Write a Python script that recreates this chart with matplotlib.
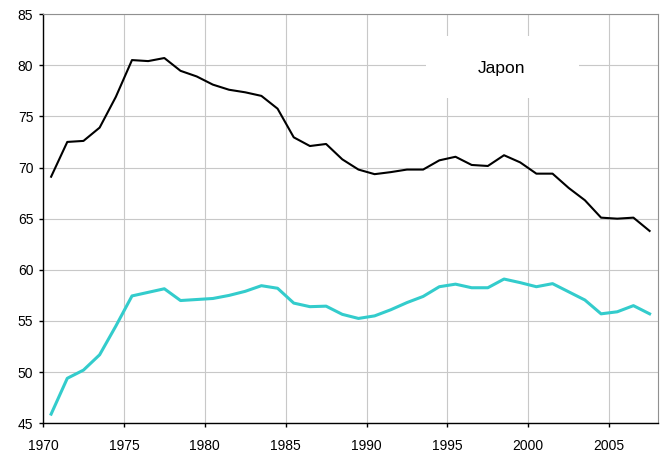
import numpy as np
import matplotlib.pyplot as plt
from matplotlib.patches import Rectangle

plt.rcParams['font.family'] = ['Liberation Sans', 'DejaVu Sans']

# years 1970..2007, plotted mid-year like a category axis
years = np.arange(1970, 2008)
black_series = [69.1, 72.5, 72.6, 73.9, 76.9, 80.5, 80.4, 80.7, 79.45, 78.9,
                78.1, 77.6, 77.35, 77.0, 75.75, 72.95, 72.1, 72.3, 70.8, 69.8,
                69.35, 69.55, 69.8, 69.8, 70.7, 71.05, 70.25, 70.15, 71.2, 70.5,
                69.4, 69.4, 68.0, 66.8, 65.1, 65.0, 65.1, 63.8]
cyan_series = [45.9, 49.4, 50.2, 51.7, 54.5, 57.45, 57.8, 58.15, 57.0, 57.1,
               57.2, 57.5, 57.9, 58.45, 58.2, 56.75, 56.4, 56.45, 55.65, 55.25,
               55.5, 56.1, 56.8, 57.4, 58.35, 58.6, 58.25, 58.25, 59.1, 58.75,
               58.35, 58.65, 57.85, 57.05, 55.7, 55.9, 56.5, 55.7]
xticks = [1970, 1975, 1980, 1985, 1990, 1995, 2000, 2005]
yticks = [45, 50, 55, 60, 65, 70, 75, 80, 85]
label = 'Japon'

fig = plt.figure(figsize=(6.65, 4.57), dpi=100)
ax = fig.add_axes([0.0647, 0.0737, 0.9243, 0.8956])

ax.plot(years + 0.5, black_series, color='black', lw=1.5, zorder=3)
ax.plot(years + 0.5, cyan_series, color='#33CCCC', lw=2.2, zorder=3)

ax.set_xlim(1970, 2008)
ax.set_ylim(45, 85)
ax.set_xticks(xticks)
ax.set_yticks(yticks)
ax.grid(True, color='#c8c8c8', lw=0.8, zorder=0)
ax.set_axisbelow(True)

for s in ['top', 'right']:
    ax.spines[s].set_color('#909090')
    ax.spines[s].set_linewidth(0.8)
for s in ['left', 'bottom']:
    ax.spines[s].set_color('black')
    ax.spines[s].set_linewidth(1.0)

ax.tick_params(axis='both', direction='out', length=3, width=1, labelsize=10,
               colors='black')
ax.tick_params(axis='y', pad=4)
ax.tick_params(axis='x', pad=8)

# white box behind the label, hiding the grid
ax.add_patch(Rectangle((0.6226, 0.794), 0.2494, 0.153, transform=ax.transAxes,
                       facecolor='white', edgecolor='none', zorder=2))
ax.text(0.746, 0.867, label, transform=ax.transAxes, ha='center', va='center',
        fontsize=12.5, zorder=4)

fig.savefig('out.png', dpi=100)
